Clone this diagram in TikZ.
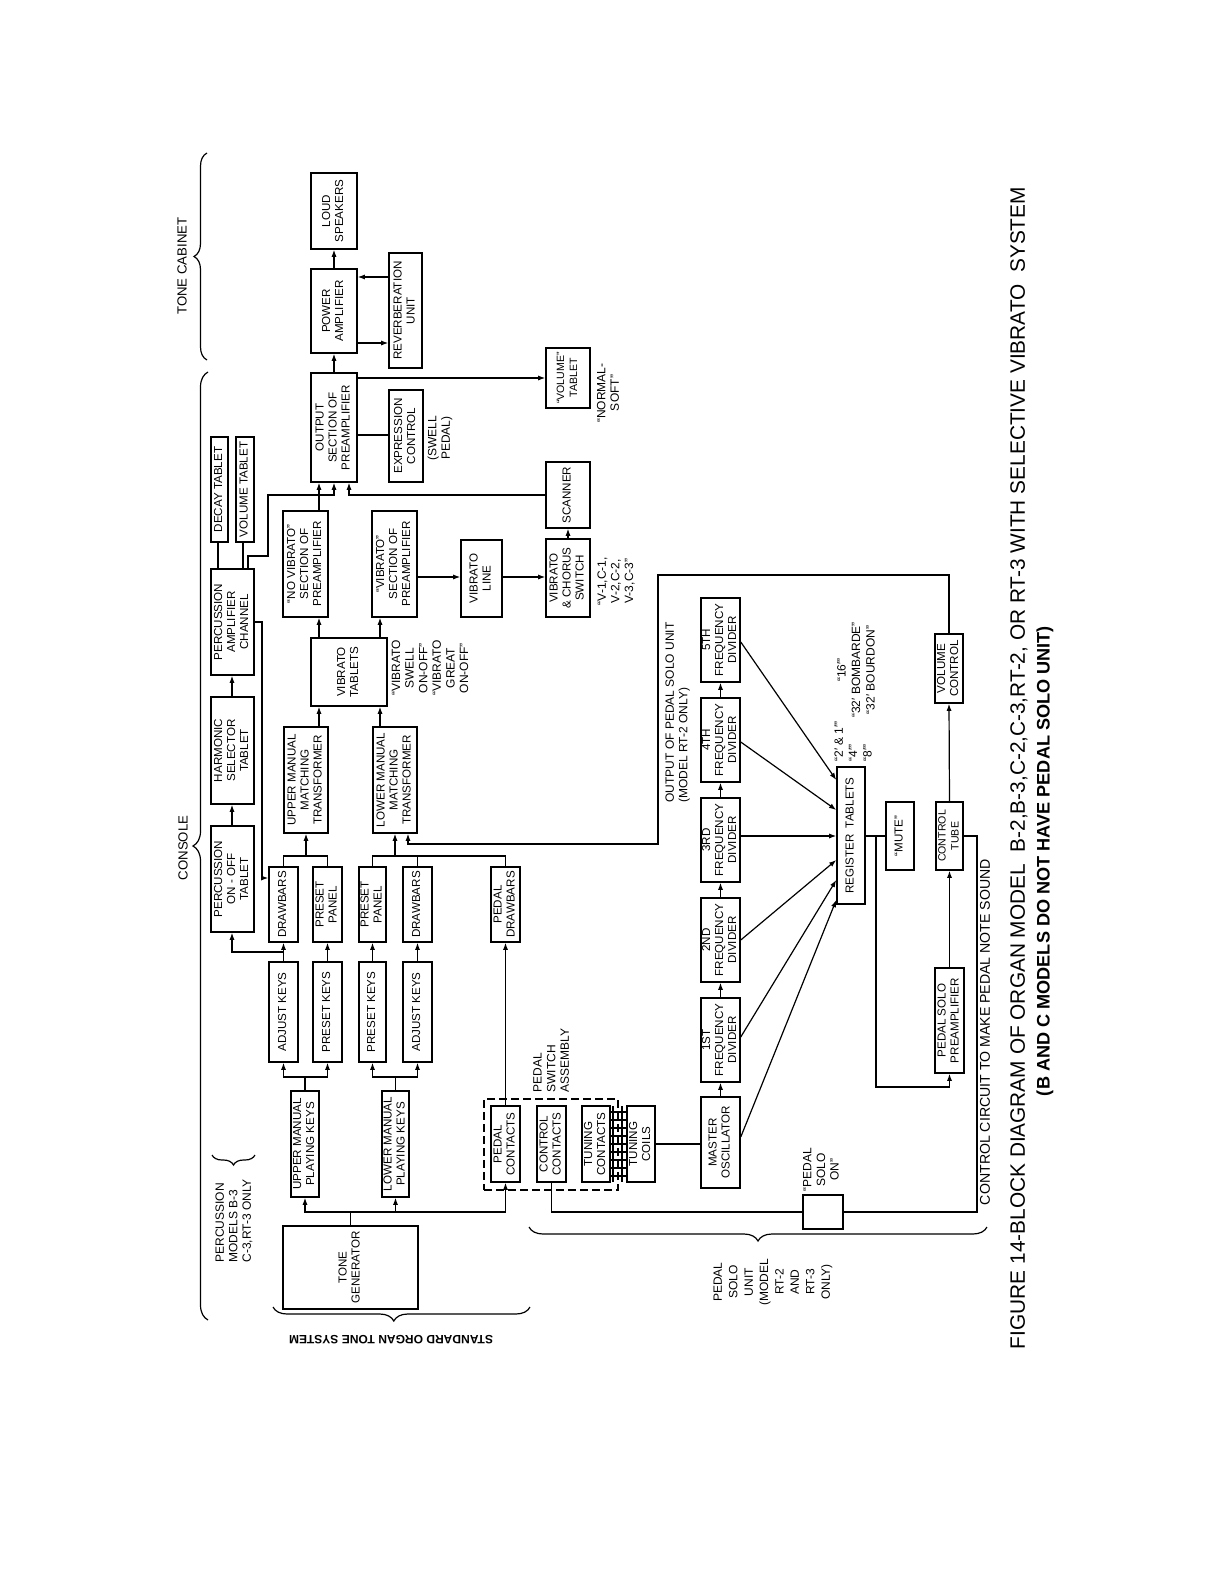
\documentclass[tikz,border=0pt]{standalone}
\usepackage{fontspec}
\setmainfont{Liberation Sans}
\usetikzlibrary{arrows.meta,fit,decorations.pathreplacing}
\newcommand\rt[1]{\rotatebox{90}{\begin{tabular}{@{}c@{}}#1\end{tabular}}}
\newcommand\bx[6]{%
 \pgfmathsetmacro\bxw{(#4-#2)*0.5}%
 \pgfmathsetmacro\bxh{(#5-#3)*0.5}%
 \node[box, minimum width=\bxw pt, minimum height=\bxh pt] (#1) at ({(#2+#4)/2},{(#3+#5)/2}) {\rt{#6}};}
\newcommand\sm{\fontsize{5.3}{6.2}\selectfont}
\begin{document}
\begin{tikzpicture}[x=0.5pt,y=-0.5pt,
 box/.style={draw, line width=0.75pt, inner sep=0pt, font=\fontsize{5.8}{6.5}\selectfont},
 ln/.style={line width=0.6pt},
 arr/.style={line width=0.6pt,-{Latex[length=3.6pt,width=2.6pt]}},
 lbl/.style={font=\fontsize{6}{6.8}\selectfont, inner sep=0pt, rotate=90},
 brc/.style={decorate, line width=0.6pt, decoration={brace,amplitude=#1}},
]
\fill[white] (0,0) rectangle (1224,1584);
\useasboundingbox (0,0) rectangle (1224,1584);

% ---------- boxes ----------
\bx{ls}{311}{173}{357}{249}{LOUD\\SPEAKERS}
\bx{pa}{311}{269}{357}{353}{POWER\\AMPLIFIER}
\bx{rv}{389}{253}{422}{368}{REVERBERATION\\UNIT}
\bx{op}{311}{373}{357}{482}{OUTPUT\\SECTION OF\\PREAMPLIFIER}
\bx{ex}{389}{390}{423}{482}{EXPRESSION\\CONTROL}
\bx{vt}{546}{348}{590}{408}{\sm “VOLUME”\\\sm TABLET}
\bx{dt}{211}{437}{228}{542}{DECAY TABLET}
\bx{vl}{236}{437}{254}{542}{VOLUME TABLET}
\bx{pac}{211}{569}{254}{675}{PERCUSSION\\AMPLIFIER\\CHANNEL}
\bx{hst}{211}{697}{254}{804}{HARMONIC\\SELECTOR\\TABLET}
\bx{poo}{211}{826}{254}{932}{PERCUSSION\\ON - OFF\\TABLET}
\bx{nv}{283}{511}{328}{617}{“NO VIBRATO”\\SECTION OF\\PREAMPLIFIER}
\bx{vs}{372}{511}{417}{617}{“VIBRATO”\\SECTION OF\\PREAMPLIFIER}
\bx{vln}{461}{540}{502}{617}{VIBRATO\\LINE}
\bx{vcs}{546}{539}{590}{617}{VIBRATO\\\& CHORUS\\SWITCH}
\bx{sc}{546}{462}{590}{528}{SCANNER}
\bx{vtb}{311}{638}{387}{706}{VIBRATO\\TABLETS}
\bx{umt}{284}{727}{328}{833}{UPPER MANUAL\\MATCHING\\TRANSFORMER}
\bx{lmt}{373}{727}{417}{833}{LOWER MANUAL\\MATCHING\\TRANSFORMER}
\bx{udb}{269}{867}{298}{942}{DRAWBARS}
\bx{upp}{313}{867}{342}{942}{PRESET\\PANEL}
\bx{lpp}{359}{867}{386}{942}{PRESET\\PANEL}
\bx{ldb}{403}{867}{432}{942}{DRAWBARS}
\bx{pdb}{491}{867}{520}{942}{PEDAL\\DRAWBARS}
\bx{uak}{269}{962}{298}{1062}{ADJUST KEYS}
\bx{upk}{313}{962}{342}{1062}{PRESET KEYS}
\bx{lpk}{359}{962}{386}{1062}{PRESET KEYS}
\bx{lak}{403}{962}{432}{1062}{ADJUST KEYS}
\bx{umk}{291}{1091}{319}{1197}{UPPER MANUAL\\PLAYING KEYS}
\bx{lmk}{382}{1091}{409}{1197}{LOWER MANUAL\\PLAYING KEYS}
\bx{tg}{283}{1226}{418}{1309}{TONE\\GENERATOR}
\node[draw, dashed, dash pattern=on 4pt off 2pt, line width=0.7pt, inner sep=0pt, minimum width=67pt, minimum height=45.5pt] (psa) at (551,1144.5) {};
\bx{pc}{491}{1106}{520}{1182}{PEDAL\\CONTACTS}
\bx{cc}{537}{1106}{566}{1182}{CONTROL\\CONTACTS}
\bx{tc}{582}{1106}{610}{1182}{TUNING\\CONTACTS}
\bx{tco}{627}{1106}{655}{1182}{TUNING\\COILS}
\bx{mo}{701}{1097}{740}{1188}{MASTER\\OSCILLATOR}
\bx{fd1}{701}{998}{740}{1082}{1ST\\FREQUENCY\\DIVIDER}
\bx{fd2}{701}{898}{740}{982}{2ND\\FREQUENCY\\DIVIDER}
\bx{fd3}{701}{798}{740}{882}{3RD\\FREQUENCY\\DIVIDER}
\bx{fd4}{701}{698}{740}{782}{4TH\\FREQUENCY\\DIVIDER}
\bx{fd5}{701}{598}{740}{682}{5TH\\FREQUENCY\\DIVIDER}
\bx{rt}{837}{767}{865}{904}{REGISTER~~TABLETS}
\bx{mu}{886}{802}{914}{870}{“MUTE”}
\bx{ct}{936}{802}{963}{870}{\sm CONTROL\\\sm TUBE}
\bx{vc}{935}{634}{963}{703}{VOLUME\\CONTROL}
\bx{psp}{935}{968}{964}{1073}{PEDAL SOLO\\PREAMPLIFIER}
\node[box, minimum width=20pt, minimum height=17pt] (pso) at (823,1212) {};

% ---------- connectors ----------
\draw[arr] (pa.north) -- (ls.south);
\draw[arr] (op.north) -- (pa.south);
\draw[arr] (rv.west |- 0,277) -- (pa.east |- 0,277);
\draw[arr] (pa.east |- 0,343) -- (rv.west |- 0,343);
\draw[arr] (op.east |- 0,378) -- (vt.west |- 0,378);
\draw[ln] (op.east |- 0,435) -- (ex.west |- 0,435);
\draw[ln] (pac.north -| 218,0) -- (dt.south -| 218,0);
\draw[ln] (pac.north -| 243,0) -- (vl.south -| 243,0);
\draw[arr] (pac.north -| 248,0) |- (268,556) |- (334,495) -- (op.south);
\draw[arr] (nv.north -| 319,0) -- (op.south -| 319,0);
\draw[arr] (sc.west |- 0,495) -| (op.south -| 349,0);
\draw[arr] (vtb.north -| 319,0) -- (nv.south -| 319,0);
\draw[arr] (vtb.north -| 380,0) -- (vs.south -| 380,0);
\draw[arr] (umt.north -| 319,0) -- (vtb.south -| 319,0);
\draw[arr] (lmt.north -| 380,0) -- (vtb.south -| 380,0);
\draw[arr] (vs.east |- 0,577) -- (vln.west |- 0,577);
\draw[arr] (vln.east |- 0,577) -- (vcs.west |- 0,577);
\draw[arr] (vcs.north) -- (sc.south);
\draw[arr] (hst.north -| 232,0) -- (pac.south -| 232,0);
\draw[arr] (poo.north -| 232,0) -- (hst.south -| 232,0);
\draw[arr] (pac.east |- 0,622) -| (262,878) -- (udb.west |- 0,878);
\draw[arr] (uak.north) -- (udb.south);
\draw[arr] (upk.north) -- (upp.south);
\draw[arr] (lpk.north) -- (lpp.south);
\draw[arr] (lak.north) -- (ldb.south);
\coordinate (pj) at (283.5,952);
\draw[arr] (pj) -| (poo.south -| 232,0);
\draw[ln] (udb.north) |- (upp.north |- 0,856) -- (upp.north);
\draw[arr] (umt.south |- 0,856) -- (umt.south);
\draw[ln] (lpp.north) |- (pdb.north |- 0,856) -- (pdb.north);
\draw[ln] (ldb.north) -- (ldb.north |- 0,856);
\draw[arr] (lmt.south |- 0,856) -- (lmt.south);
\draw[arr] (vc.north) |- (658,575) |- (408,844) -- (lmt.south -| 408,0);
\coordinate (ukj) at (305,1077);
\draw[ln] (umk.north) -- (ukj);
\draw[arr] (ukj) -| (uak.south);
\draw[arr] (ukj) -| (upk.south);
\coordinate (lkj) at (395.5,1077);
\draw[ln] (lmk.north) -- (lkj);
\draw[arr] (lkj) -| (lpk.south);
\draw[arr] (lkj) -| (lak.south);
\coordinate (tgj) at (350.5,1212);
\draw[ln] (tg.north) -- (tgj);
\draw[arr] (tgj) -| (umk.south);
\draw[arr] (tgj) -| (lmk.south);
\draw[arr] (tgj) -| (pc.south);
\draw[arr] (pc.north) -- (pdb.south);
\draw[ln] (cc.south) |- (pso.west);
\draw[ln] (ct.east) -| (pso.east -| 977,0) -- (pso.east);
\foreach \yy in {1112,1120,...,1176} \draw[ln] (tc.east |- 0,\yy) -- (tco.west |- 0,\yy);
\draw[ln] (613,1106) -- (613,1182);
\draw[ln] (622,1106) -- (622,1182);
\draw[ln] (tco.east) -- (mo.west |- tco.east);
\draw[arr] (mo.north) -- (fd1.south);
\draw[arr] (fd1.north) -- (fd2.south);
\draw[arr] (fd2.north) -- (fd3.south);
\draw[arr] (fd3.north) -- (fd4.south);
\draw[arr] (fd4.north) -- (fd5.south);
\draw[arr] (fd5.east |- 0,642) -- (rt.west |- 0,780);
\draw[arr] (fd4.east |- 0,742) -- (rt.west |- 0,810);
\draw[arr] (fd3.east |- 0,836) -- (rt.west |- 0,836);
\draw[arr] (fd2.east |- 0,940) -- (rt.west |- 0,860);
\draw[arr] (fd1.east |- 0,1037) -- (rt.west |- 0,880);
\draw[arr] (mo.east |- 0,1137) -- (rt.west |- 0,900);
\draw[ln] (rt.east |- mu.west) -- (mu.west);
\draw[arr] (876,836) |- (psp.south |- 0,1087) -- (psp.south);
\draw[arr] (psp.north) -- (ct.south);
\draw[arr] (ct.north) -- (vc.south);

% ---------- braces ----------
\draw[brc=6.5pt] (207,360) -- (207,153);
\draw[brc=7.5pt] (208,1320) -- (208,372);
\draw[brc=7pt, decoration={aspect=0.53}] (530,1307) -- (273,1307);
\draw[brc=7pt] (987,1227) -- (529,1227);
\draw[brc=5pt] (255,1155) -- (212,1155);

% ---------- labels ----------
\node[lbl, font=\fontsize{6.6}{7}\selectfont] (ltc) at (182,266) {TONE CABINET};
\node[lbl, font=\fontsize{6.6}{7}\selectfont] (lcon) at (183,848) {CONSOLE};
\node[lbl, anchor=north west, align=left] (lperc) at (215,1263) {PERCUSSION\\MODELS B-3\\C-3,RT-3 ONLY};
\node[lbl, anchor=north west, align=left] (lpsa) at (533,1093) {PEDAL\\SWITCH\\ASSEMBLY};
\node[lbl, anchor=north west, align=left] (lout) at (665,803) {OUTPUT OF PEDAL SOLO UNIT\\(MODEL RT-2 ONLY)};
\node[lbl, align=center] (lvib) at (430,668) {“VIBRATO\\SWELL\\ON-OFF”\\“VIBRATO\\GREAT\\ON-OFF”};
\node[lbl, align=center] (lvc) at (616,581) {“V-1,C-1,\\V-2,C-2,\\V-3,C-3”};
\node[lbl, align=center] (lns) at (608,393) {“NORMAL-\\SOFT”};
\node[lbl, align=center] (lsp) at (440,438) {(SWELL\\PEDAL)};
\node[lbl, anchor=north west, align=left, font=\fontsize{6}{7.2}\selectfont] (lreg1) at (834,762) {“2′ \& 1′”\\“4′”\\“8′”};
\node[lbl, align=center, font=\fontsize{6}{7.2}\selectfont] (lreg2) at (856,670) {“16′”\\“32′ BOMBARDE”\\“32′ BOURDON”};
\node[lbl, align=center, anchor=west] (lpso) at (821,1192) {“PEDAL\\SOLO\\ON”};
\node[lbl, align=center, font=\fontsize{6}{7.7}\selectfont] (lpsu) at (773,1282) {PEDAL\\SOLO\\UNIT\\(MODEL\\RT-2\\AND\\RT-3\\ONLY)};
\node[rotate=90, inner sep=0pt] (lcc) at (985,1032) {\resizebox{173pt}{!}{CONTROL CIRCUIT TO MAKE PEDAL NOTE SOUND}};
\node[rotate=180, inner sep=0pt] (lstd) at (391,1340) {\resizebox{102pt}{!}{\bfseries STANDARD ORGAN TONE SYSTEM}};
\node[rotate=90, inner sep=0pt] (cap) at (1019,768) {\resizebox{581pt}{!}{FIGURE 14-BLOCK DIAGRAM OF ORGAN MODEL~ B-2,B-3,C-2,C-3,RT-2, OR RT-3 WITH SELECTIVE VIBRATO~ SYSTEM}};
\node[rotate=90, inner sep=0pt] (subcap) at (1045,861) {\resizebox{235pt}{!}{\bfseries (B AND C MODELS DO NOT HAVE PEDAL SOLO UNIT)}};
\end{tikzpicture}
\end{document}
